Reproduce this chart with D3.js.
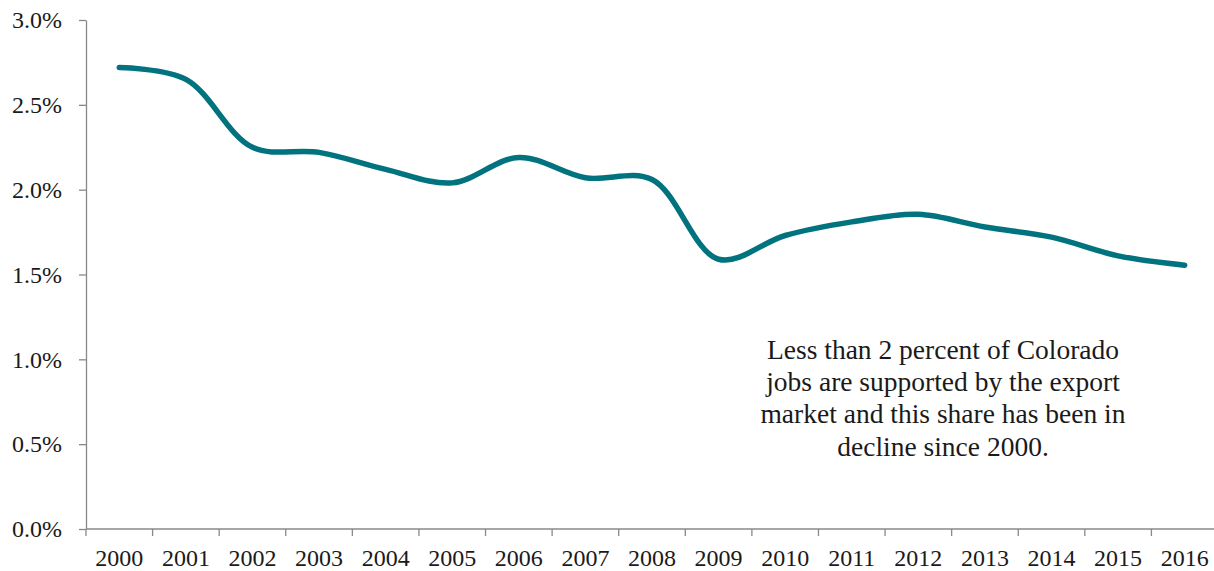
<!DOCTYPE html>
<html>
<head>
<meta charset="utf-8">
<script src="https://cdn.jsdelivr.net/npm/d3@7"></script>
<style>
  body { margin: 0; background: #fff; }
  text { font-family: "Liberation Serif", "DejaVu Serif", serif; fill: #1a1a1a; }
</style>
</head>
<body>
<div id="chart"></div>
<script>
// data
var years = ["2000", "2001", "2002", "2003", "2004", "2005", "2006", "2007", "2008",
             "2009", "2010", "2011", "2012", "2013", "2014", "2015", "2016"];
var shareOfJobs = [2.72, 2.65, 2.25, 2.22, 2.12, 2.04, 2.19, 2.07, 2.06,
                   1.59, 1.73, 1.81, 1.855, 1.78, 1.72, 1.61, 1.555];
var yTicks = [0, 0.5, 1.0, 1.5, 2.0, 2.5, 3.0];
var noteLines = ["Less than 2 percent of Colorado",
                 "jobs are supported by the export",
                 "market and this share has been in",
                 "decline since 2000."];

var svgWidth = 1214;
var svgHeight = 571;

var margin = { top: 20, right: -4, bottom: 42, left: 86 };
var width = svgWidth - margin.left - margin.right;
var height = svgHeight - margin.top - margin.bottom;

var svg = d3.select("#chart")
  .append("svg")
  .attr("width", svgWidth)
  .attr("height", svgHeight);

var chartGroup = svg.append("g")
  .attr("transform", `translate(${margin.left}, ${margin.top})`);

var xBand = d3.scaleBand()
  .domain(years)
  .range([0, width]);

var yLinearScale = d3.scaleLinear()
  .domain([0, 3])
  .range([height, 0]);

// y axis
var yAxis = d3.axisLeft(yLinearScale)
  .tickValues(yTicks)
  .tickSizeInner(7)
  .tickSizeOuter(0)
  .tickPadding(17)
  .tickFormat(d => d.toFixed(1) + "%");

var yG = chartGroup.append("g").call(yAxis);
yG.attr("font-family", null);
yG.select(".domain").attr("stroke", "#898989").attr("stroke-width", 1.3);
yG.selectAll(".tick line").attr("stroke", "#898989").attr("stroke-width", 1.3);
yG.selectAll(".tick text")
  .attr("font-size", 24)
  .attr("fill", "#1a1a1a");

// x axis with ticks between categories
var xG = chartGroup.append("g")
  .attr("transform", `translate(0, ${height})`);

xG.append("line")
  .attr("x1", 0)
  .attr("x2", width)
  .attr("stroke", "#898989")
  .attr("stroke-width", 1.3);

var bounds = years.map(d => xBand(d)).concat([xBand(years[years.length - 1]) + xBand.bandwidth()]);
xG.selectAll(".xtick")
  .data(bounds)
  .enter()
  .append("line")
  .attr("class", "xtick")
  .attr("x1", d => d)
  .attr("x2", d => d)
  .attr("y1", 0)
  .attr("y2", 7)
  .attr("stroke", "#898989")
  .attr("stroke-width", 1.3);

xG.selectAll(".xlabel")
  .data(years)
  .enter()
  .append("text")
  .attr("class", "xlabel")
  .attr("x", d => xBand(d) + xBand.bandwidth() / 2)
  .attr("y", 37)
  .attr("text-anchor", "middle")
  .attr("font-size", 24)
  .text(d => d);

// the line
var line = d3.line()
  .x((d, i) => xBand(years[i]) + xBand.bandwidth() / 2)
  .y(d => yLinearScale(d))
  .curve(d3.curveCatmullRom.alpha(0.5));

chartGroup.append("path")
  .datum(shareOfJobs)
  .attr("fill", "none")
  .attr("stroke", "#00737f")
  .attr("stroke-width", 5.5)
  .attr("stroke-linecap", "round")
  .attr("d", line);

// annotation
var note = svg.append("text")
  .attr("text-anchor", "middle")
  .attr("font-size", 27.5);

note.selectAll("tspan")
  .data(noteLines)
  .enter()
  .append("tspan")
  .attr("x", 943)
  .attr("y", (d, i) => 359 + i * 32.2)
  .text(d => d);
</script>
</body>
</html>
